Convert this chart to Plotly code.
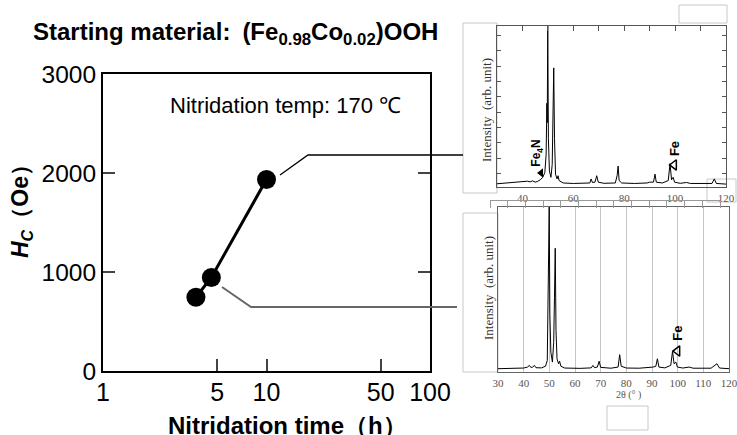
import plotly.graph_objects as go

W, H = 737, 435

# ---------------- data ----------------
nitridation_time_h = [3.7, 4.6, 10]
coercivity_oe = [745, 945, 1935]
main_xticks = [1, 5, 10, 50, 100]
main_yticks = [0, 1000, 2000, 3000]

# XRD pattern of the 10 h sample (upper inset)
xrd_top_2theta = [30, 33, 36, 38, 40, 42, 43, 44, 45, 46, 47, 48, 48.8, 49.3, 49.6, 49.75, 49.95,
                  50.2, 50.6, 51.2, 51.7, 52.0, 52.3, 52.6, 53.0, 53.6, 54.0, 54.4, 56, 60, 64,
                  66.5, 67.0, 67.5, 68.5, 69.2, 69.8, 72, 76.5, 77.2, 77.6, 78.0, 79, 84, 89, 90,
                  91.5, 92.1, 92.6, 95, 97.3, 98.0, 98.6, 99.2, 99.8, 102, 104.5, 106, 114.5,
                  115.4, 116.2, 120]
xrd_top_int = [2.0, 2.3, 2.6, 2.8, 3.4, 3.6, 3.2, 3.8, 3.0, 3.5, 4.5, 6, 9, 20, 52, 40, 100,
               30, 10, 6, 14, 40, 74, 30, 8, 5, 7, 4, 2.5, 2.2, 2.2,
               2.5, 5, 2.8, 3, 7, 3, 2.3, 2.5, 7, 13, 4, 2.5, 2.2, 2.5, 3,
               3, 8, 3, 2.5, 4, 14.5, 4.5, 6, 3, 2.3, 2.8, 2.2, 2.2,
               5, 2.2, 1.8]

# XRD pattern of the ~5 h sample (lower inset)
xrd_bot_2theta = [30, 35, 40, 41.5, 42.2, 42.8, 43.5, 44.2, 44.8, 47, 48.5, 49.2, 49.6, 49.75,
                  49.95, 50.2, 50.6, 51.2, 51.7, 52.0, 52.3, 52.6, 53.0, 53.6, 54.0, 54.5, 56,
                  62, 66.3, 67.0, 67.6, 68.7, 69.4, 70.0, 74, 76.8, 77.4, 78.0, 80, 85, 89,
                  90.5, 91.5, 92.1, 92.7, 95, 97.3, 98.0, 98.6, 99.3, 99.9, 102, 104.5, 106,
                  113, 115.3, 116.3, 120]
xrd_bot_int = [2, 2.2, 2.4, 3, 4, 2.8, 3, 4, 2.6, 2.5, 3.5, 7, 58, 45,
               100, 35, 12, 6, 18, 45, 75, 25, 8, 5, 6.5, 3.5, 2.4,
               2.2, 2.5, 4, 2.6, 3, 6.5, 2.8, 2.3, 3, 10.5, 3.5, 2.4, 2.3, 2.5,
               3, 3.5, 8, 3, 2.5, 4, 12.5, 5, 6, 3, 2.4, 3, 2.3,
               2.3, 5, 2.4, 2.0]

top_xticks = [40, 60, 80, 100, 120]
bot_xticks = [30, 40, 50, 60, 70, 80, 90, 100, 110, 120]

# phase markers
fe4n_mark = (47.3, 8.7)
fe_mark_top = (99.6, 13.7)
fe_mark_bot = (99.9, 12.7)


def px(x):
    return x / W


def py(y):
    return 1 - y / H


SANS = "Liberation Sans, Arial, sans-serif"
SERIF = "Liberation Serif, Times New Roman, serif"

fig = go.Figure()

# main chart
fig.add_trace(go.Scatter(x=nitridation_time_h, y=coercivity_oe, mode="lines+markers",
                         line=dict(color="black", width=3),
                         marker=dict(size=19, color="black"),
                         xaxis="x", yaxis="y", showlegend=False))

# top inset
fig.add_trace(go.Scatter(x=xrd_top_2theta, y=xrd_top_int, mode="lines",
                         line=dict(color="black", width=1),
                         xaxis="x2", yaxis="y2", showlegend=False))
fig.add_trace(go.Scatter(x=[fe4n_mark[0]], y=[fe4n_mark[1]], mode="markers",
                         marker=dict(symbol="triangle-left", size=8, color="black"),
                         xaxis="x2", yaxis="y2", showlegend=False))
fig.add_trace(go.Scatter(x=[fe_mark_top[0]], y=[fe_mark_top[1]], mode="markers",
                         marker=dict(symbol="triangle-left-open", size=9, color="black",
                                     line=dict(width=1.5)),
                         xaxis="x2", yaxis="y2", showlegend=False))
# top overlay axis (ticks on top edge)
fig.add_trace(go.Scatter(x=[None], y=[None], xaxis="x4", yaxis="y2", showlegend=False))

# bottom inset
fig.add_trace(go.Scatter(x=xrd_bot_2theta, y=xrd_bot_int, mode="lines",
                         line=dict(color="black", width=1),
                         xaxis="x3", yaxis="y3", showlegend=False))
fig.add_trace(go.Scatter(x=[fe_mark_bot[0]], y=[fe_mark_bot[1]], mode="markers",
                         marker=dict(symbol="triangle-left-open", size=9, color="black",
                                     line=dict(width=1.5)),
                         xaxis="x3", yaxis="y3", showlegend=False))
# decorative axis line between insets
fig.add_trace(go.Scatter(x=[None], y=[None], xaxis="x5", yaxis="y5", showlegend=False))

fig.update_layout(
    width=W, height=H, margin=dict(l=0, r=0, t=0, b=0, pad=0, autoexpand=False),
    paper_bgcolor="white", plot_bgcolor="white",
    font=dict(family=SANS, color="black"),
    xaxis=dict(type="log", range=[0, 2], domain=[px(103), px(430)], anchor="y",
               tickvals=main_xticks, ticktext=[str(v) for v in main_xticks],
               ticks="inside", ticklen=12, tickwidth=1.5, tickcolor="#444",
               showline=True, linecolor="black", linewidth=2, mirror=True,
               showgrid=False, zeroline=False, tickfont=dict(size=25, family=SANS),
               ticklabelstandoff=-2, automargin=False),
    yaxis=dict(range=[0, 3000], domain=[py(371), py(74)], anchor="x",
               tickvals=main_yticks, ticks="inside", ticklen=12, tickwidth=1.5,
               tickcolor="#444", showline=True, linecolor="black", linewidth=2,
               mirror="ticks", showgrid=False, zeroline=False,
               tickfont=dict(size=24.5, family=SANS), automargin=False),
    xaxis2=dict(range=[30, 120], domain=[px(497), px(726)], anchor="y2",
                tickvals=top_xticks, ticks="", showline=True, linecolor="#555", linewidth=1,
                mirror=True, showgrid=False, zeroline=False,
                tickfont=dict(size=11, family=SERIF, color="#555"), ticklabelstandoff=1,
                ticklabeloverflow="allow", automargin=False),
    xaxis4=dict(range=[30, 120], overlaying="x2", side="top", anchor="y2",
                tick0=30, dtick=10, ticks="inside", ticklen=5, tickcolor="#555",
                showticklabels=False, showgrid=False, zeroline=False, showline=False,
                automargin=False),
    yaxis2=dict(range=[0, 100], domain=[py(187), py(26)], anchor="x2",
                tick0=8.5, dtick=9.5, ticks="inside", ticklen=4, tickcolor="#555",
                showticklabels=False, showline=True, linecolor="#555", linewidth=1,
                mirror="ticks", showgrid=False, zeroline=False, automargin=False),
    xaxis3=dict(range=[30, 120], domain=[px(498), px(729)], anchor="y3",
                tickvals=bot_xticks, ticks="", showline=True, linecolor="#666", linewidth=1,
                mirror=True, showgrid=True, gridcolor="#c4c4c4", gridwidth=1, zeroline=False,
                tickfont=dict(size=11, family=SERIF, color="#555"), ticklabelstandoff=1,
                ticklabeloverflow="allow", automargin=False),
    yaxis3=dict(range=[0, 100], domain=[py(372), py(207)], anchor="x3",
                showticklabels=False, ticks="", showline=True, linecolor="#666", linewidth=1,
                mirror=True, showgrid=False, zeroline=False, automargin=False),
    xaxis5=dict(range=[0, 13], domain=[px(490), px(720)], anchor="y5",
                tick0=0, dtick=1, ticks="outside", ticklen=7, tickcolor="#999",
                showticklabels=False, showline=True, linecolor="#999", linewidth=1,
                showgrid=False, zeroline=False, automargin=False),
    yaxis5=dict(range=[0, 1], domain=[py(200), py(198)], anchor="x5", visible=False),
)

# light gray boxes from the pasted insets
boxes = [(463, 23, 497, 193), (679, 5, 727, 23), (707, 179, 736, 202),
         (463, 213, 498, 372), (607, 406, 648, 430)]
for x0, y0, x1, y1 in boxes:
    fig.add_shape(type="rect", xref="paper", yref="paper",
                  x0=px(x0), y0=py(y0), x1=px(x1), y1=py(y1),
                  line=dict(color="#c8c8c8", width=1), fillcolor="rgba(0,0,0,0)", layer="below")

# leader lines
fig.add_shape(type="path", xref="paper", yref="paper",
              path=f"M {px(280)} {py(175)} L {px(308)} {py(155)} L {px(463)} {py(155)}",
              line=dict(color="black", width=1.3))
fig.add_shape(type="path", xref="paper", yref="paper",
              path=f"M {px(222)} {py(287)} L {px(251)} {py(307)} L {px(457)} {py(307)}",
              line=dict(color="#666", width=2))


def note(x, y, text, size, family=SANS, color="black", angle=0, xref="paper", yref="paper",
         xanchor="center"):
    return dict(x=x, y=y, xref=xref, yref=yref, xanchor=xanchor, yanchor="middle",
                text=text, showarrow=False, textangle=angle,
                font=dict(size=size, family=family, color=color))


ann = [
    note(px(31), py(33),
         "<b>Starting material:\u2002(Fe<sub>0.98</sub>Co<sub>0.02</sub>)OOH</b>",
         24, xanchor="left"),
    note(px(285), py(106), "Nitridation temp: 170 ℃", 22),
    note(px(21), py(206), "<b><i>H</i><sub><i>C</i></sub>（Oe）</b>", 23, angle=-90),
    note(px(287), py(425), "<b>Nitridation time（h）</b>", 24),
    note(45.9, 21, "<b>Fe<sub>4</sub>N</b>", 12, angle=-90, xref="x2", yref="y2"),
    note(fe_mark_top[0], 23.6, "<b>Fe</b>", 13, angle=-90, xref="x2", yref="y2"),
    note(fe_mark_bot[0], 23.5, "<b>Fe</b>", 13, angle=-90, xref="x3", yref="y3"),
    note(px(486), py(110), "Intensity  (arb. unit)", 13, family=SERIF, color="#333", angle=-90),
    note(px(488), py(288), "Intensity  (arb. unit)", 13, family=SERIF, color="#333", angle=-90),
    note(px(628), py(395), "2θ (° )", 10, family=SERIF, color="#555"),
]
fig.update_layout(annotations=ann)

fig.write_html("out.html", config={"displayModeBar": False},
               post_script="document.body.style.margin='0px';document.body.style.overflow='hidden';")
